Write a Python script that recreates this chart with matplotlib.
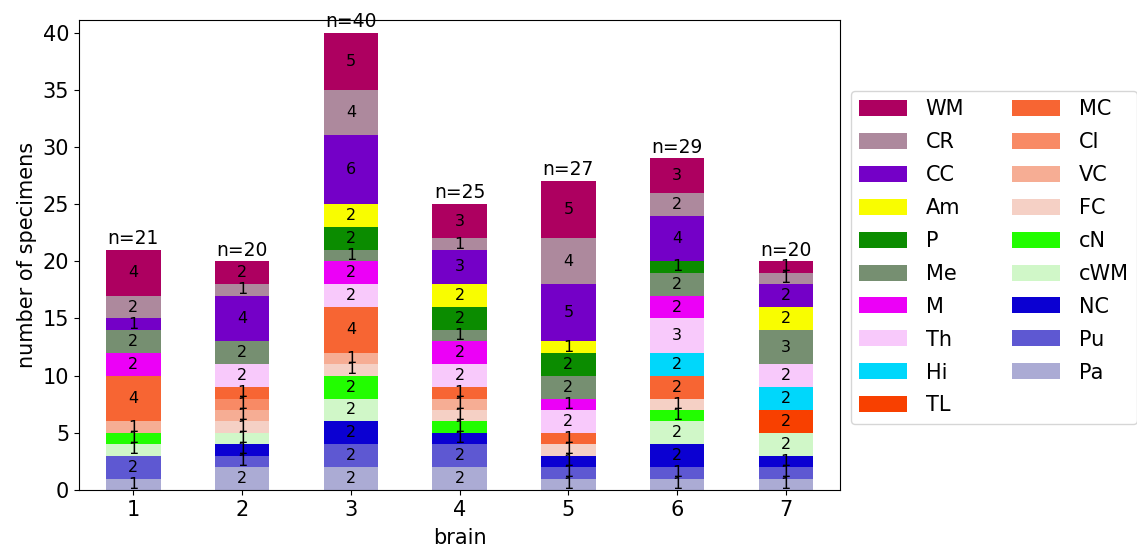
import numpy as np
import matplotlib
matplotlib.use("Agg")
import matplotlib.pyplot as plt

# brains on the x axis
brains = [1, 2, 3, 4, 5, 6, 7]

# regions, stacked bottom -> top
regions = ["Pa", "Pu", "NC", "cWM", "cN", "FC", "VC", "CI", "MC", "TL",
           "Hi", "Th", "M", "Me", "P", "Am", "CC", "CR", "WM"]
colors = ["#ababd4", "#5e58d2", "#0b00d2", "#d0f7c8", "#22fd00", "#f5d0c5",
          "#f6ad94", "#f88a65", "#f76533", "#f84000", "#00d7fb", "#f8c9fb",
          "#ec00f7", "#768f71", "#0b8c00", "#f9fd00", "#7400c7", "#ad899d",
          "#ad0060"]

# counts per brain (same order as regions)
b1 = [1, 2, 0, 1, 1, 0, 1, 0, 4, 0, 0, 0, 2, 2, 0, 0, 1, 2, 4]
b2 = [2, 1, 1, 1, 0, 1, 1, 1, 1, 0, 0, 2, 0, 2, 0, 0, 4, 1, 2]
b3 = [2, 2, 2, 2, 2, 1, 1, 0, 4, 0, 0, 2, 2, 1, 2, 2, 6, 4, 5]
b4 = [2, 2, 1, 0, 1, 1, 1, 0, 1, 0, 0, 2, 2, 1, 2, 2, 3, 1, 3]
b5 = [1, 1, 1, 0, 0, 1, 0, 0, 1, 0, 0, 2, 1, 2, 2, 1, 5, 4, 5]
b6 = [1, 1, 2, 2, 1, 1, 0, 0, 2, 0, 2, 3, 2, 2, 1, 0, 4, 2, 3]
b7 = [1, 1, 1, 2, 0, 0, 0, 0, 0, 2, 2, 2, 0, 3, 0, 2, 2, 1, 1]

counts = np.array([b1, b2, b3, b4, b5, b6, b7]).T   # regions x brains

fig = plt.figure(figsize=(11.37, 5.54), dpi=100)
ax = fig.add_axes([0.0695, 0.1155, 0.6695, 0.8485])

bottom = np.zeros(len(brains))
handles = []
for reg, col, vals in zip(regions, colors, counts):
    h = ax.bar(brains, vals, width=0.5, bottom=bottom, color=col, label=reg)
    handles.append(h)
    for x, v, b in zip(brains, vals, bottom):
        if v > 0:
            ax.text(x, b + v / 2, str(v), ha="center", va="center", fontsize=11.5)
    bottom = bottom + vals

totals = counts.sum(axis=0)
for x, t in zip(brains, totals):
    ax.text(x, t + 0.15, f"n={t}", ha="center", va="bottom", fontsize=13.5)

ax.set_xlim(0.5, 7.5)
ax.set_ylim(0, 41.1)
ax.set_xticks(brains)
ax.tick_params(labelsize=15)
ax.set_xlabel("brain", fontsize=15, labelpad=6)
ax.set_ylabel("number of specimens", fontsize=15)

# legend: top region first
ax.legend(handles[::-1], regions[::-1], ncol=2, fontsize=15,
          loc="center left", bbox_to_anchor=(1.0, 0.495),
          handlelength=2.3, handleheight=0.8, labelspacing=0.62,
          handletextpad=0.9, columnspacing=2.3)

fig.savefig("out.png", dpi=100)
